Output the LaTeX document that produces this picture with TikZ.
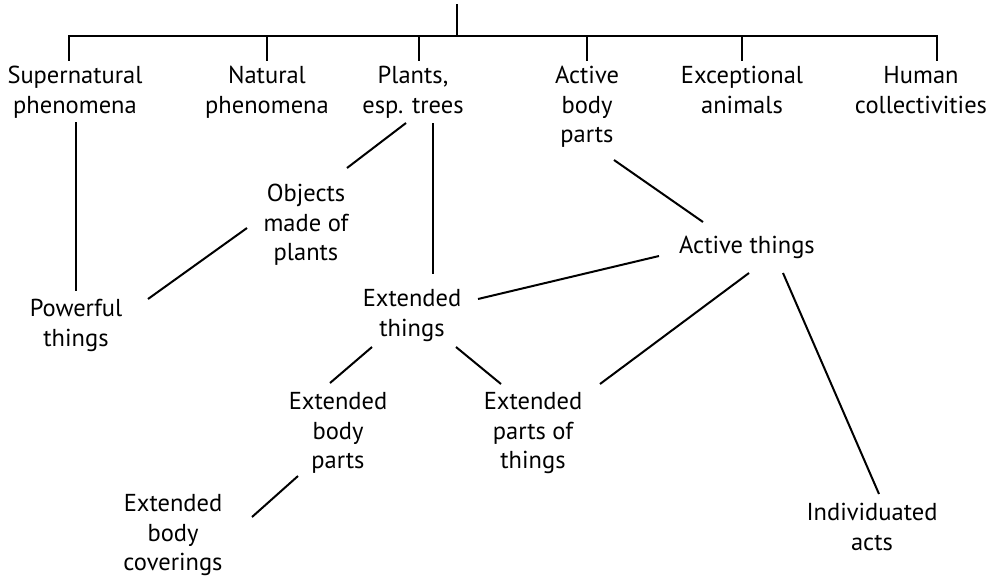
\documentclass[tikz,border=0pt]{standalone}
\usepackage{fontspec}
\setmainfont{PT Sans}
\begin{document}
\begin{tikzpicture}[x=1pt,y=-1pt,
  lbl/.style={anchor=north,inner sep=0pt,outer sep=0pt,align=center,
    font=\fontsize{24.5}{29.5}\selectfont},
  conn/.style={line width=2pt,line cap=butt},
  bar/.style={line width=2.6pt}]
\useasboundingbox (0,0) rectangle (986,579);
% nodes (each first line starts with a strut so that north = baseline - 20.65pt)
\node[lbl] (sup) at (75,63) {\strut Supernatural\\phenomena};
\node[lbl] (nat) at (267,63) {\strut Natural\\phenomena};
\node[lbl] (pla) at (413,63) {\strut Plants,\\esp. trees};
\node[lbl] (abp) at (587,63) {\strut Active\\body\\parts};
\node[lbl] (exa) at (742,63) {\strut Exceptional\\animals};
\node[lbl] (hum) at (921,63) {\strut Human\\collectivities};
\node[lbl] (obj) at (306,181) {\strut Objects\\made of\\plants};
\node[lbl] (pow) at (76,296) {\strut Powerful\\things};
\node[lbl] (ext) at (412,286) {\strut Extended\\things};
\node[lbl] (act) at (747,233) {\strut Active things};
\node[lbl] (ebp) at (338,389) {\strut Extended\\body\\parts};
\node[lbl] (epo) at (533,389) {\strut Extended\\parts of\\things};
\node[lbl] (ebc) at (173,491) {\strut Extended\\body\\coverings};
\node[lbl] (ind) at (872,500) {\strut Individuated\\acts};
% tree top
\coordinate (root) at (457,4);
\coordinate (j) at (457,36);
\coordinate (bl) at (69,36);
\coordinate (br) at (937,36);
\draw[conn] (root) -- (j);
\draw[bar,line cap=rect] (bl) -- (br);
\draw[conn] (bl) -- ([shift={(-6,-2)}]sup.north);
\draw[conn] (nat.north |- j) -- ([shift={(0,-2)}]nat.north);
\draw[conn] ([shift={(6,0)}]pla.north |- j) -- ([shift={(6,-2)}]pla.north);
\draw[conn] (abp.north |- j) -- ([shift={(0,-2)}]abp.north);
\draw[conn] (exa.north |- j) -- ([shift={(0,-2)}]exa.north);
\draw[conn] (br) -- ([shift={(16,-2)}]hum.north);
% connectors
\draw[conn] ([shift={(1,59)}]sup.north) -- ([shift={(0,-5)}]pow.north);
\draw[conn] ([shift={(-7,60)}]pla.north) -- ([shift={(41,-13)}]obj.north);
\draw[conn] ([shift={(20,60)}]pla.north) -- ([shift={(21,-12)}]ext.north);
\draw[conn] ([shift={(-59,47)}]obj.north) -- ([shift={(72,3)}]pow.north);
\draw[conn] ([shift={(27,97)}]abp.north) -- ([shift={(-44,-11)}]act.north);
\draw[conn] ([shift={(-88,23)}]act.north) -- ([shift={(66,13)}]ext.north);
\draw[conn] ([shift={(2,40)}]act.north) -- ([shift={(67,-5)}]epo.north);
\draw[conn] ([shift={(36,40)}]act.north) -- ([shift={(7,-6)}]ind.north);
\draw[conn] ([shift={(-40,61)}]ext.north) -- ([shift={(-8,-6)}]ebp.north);
\draw[conn] ([shift={(44,61)}]ext.north) -- ([shift={(-32,-5)}]epo.north);
\draw[conn] ([shift={(-40,87)}]ebp.north) -- ([shift={(79,26)}]ebc.north);
\end{tikzpicture}
\end{document}
